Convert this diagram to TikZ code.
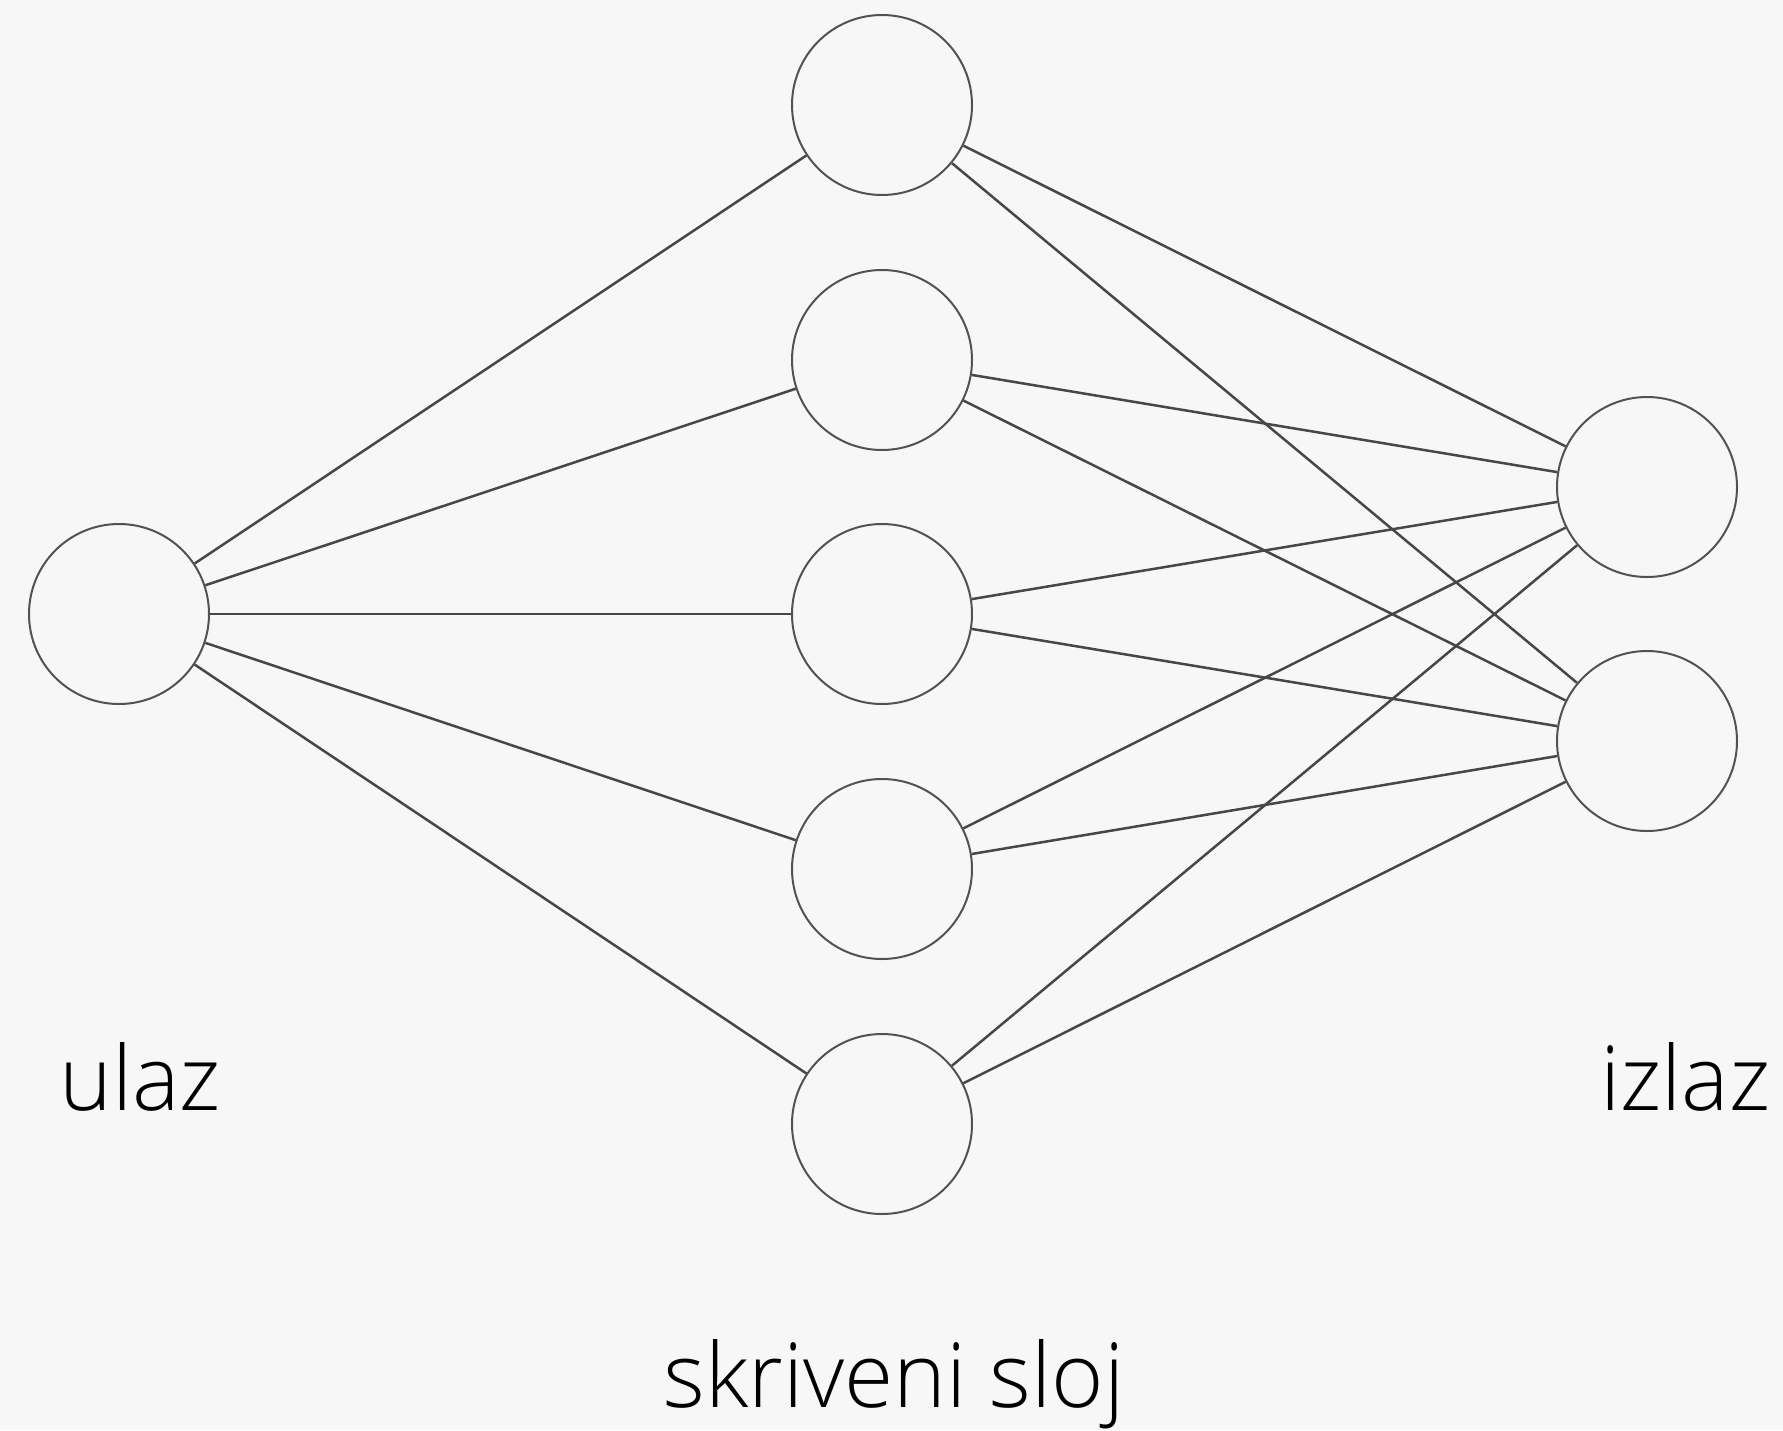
\documentclass[tikz,border=0pt]{standalone}
\usepackage{fontspec}
\setmainfont{Open Sans}[UprightFont={* Light}]
\begin{document}
\begin{tikzpicture}[x=1pt,y=-1pt,
  neuron/.style={circle,draw=black!68,line width=2pt,minimum size=180pt,inner sep=0pt},
  link/.style={draw=black!72,line width=2.5pt},
  lbl/.style={inner sep=0pt,font=\fontsize{89.5}{107}\selectfont,text=black}]
\fill[black!3] (0,0) rectangle (1783,1430);
\useasboundingbox (0,0) rectangle (1783,1430);
\node[neuron] (i) at (119,614) {};
\node[neuron] (h1) at (882,105) {};
\node[neuron] (h2) at (882,360) {};
\node[neuron] (h3) at (882,614) {};
\node[neuron] (h4) at (882,869) {};
\node[neuron] (h5) at (882,1124) {};
\node[neuron] (o1) at (1647,487) {};
\node[neuron] (o2) at (1647,741) {};
\foreach \h in {h1,h2,h3,h4,h5} {
  \draw[link] (i) -- (\h);
  \draw[link] (\h) -- (o1);
  \draw[link] (\h) -- (o2);
}
\node[lbl,anchor=base west] (ul) at (59,1110) {ulaz};
\node[lbl,anchor=base west] (iz) at (1600,1110) {izlaz};
\node[lbl,anchor=base] (sk) at (894,1407) {skriveni sloj};
\end{tikzpicture}
\end{document}
